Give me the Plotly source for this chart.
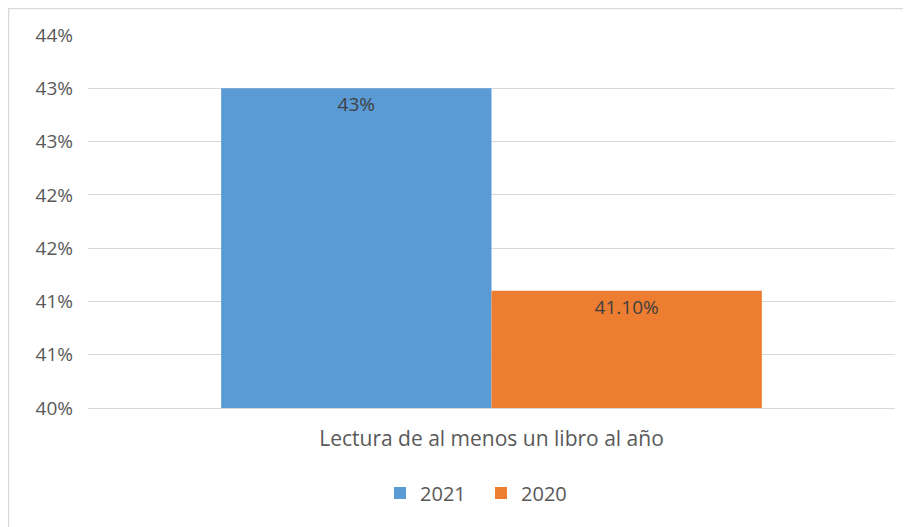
import plotly.graph_objects as go

category = ["Lectura de al menos un libro al año"]
years = ["2021", "2020"]
values = [43.0, 41.1]
value_labels = ["43%", "41.10%"]
colors = ["#5B9BD5", "#ED7D31"]

tick_vals = [40.0, 40.5, 41.0, 41.5, 42.0, 42.5, 43.0, 43.5]
tick_text = ["40%", "41%", "41%", "42%", "42%", "43%", "43%", "44%"]

FONT = "Open Sans, sans-serif"

fig = go.Figure()
for year, val, lab, col in zip(years, values, value_labels, colors):
    fig.add_trace(go.Bar(
        x=category, y=[val], name=year, marker_color=col,
        marker_line_width=0,
        text=[lab], textposition="inside", insidetextanchor="end",
        textfont=dict(family=FONT, size=19, color="#404040"),
        cliponaxis=False,
    ))

# page body adds an 8px offset, so margins are shifted to compensate
fig.update_layout(
    width=911, height=527,
    margin=dict(l=80, r=24, t=27, b=127),
    paper_bgcolor="white", plot_bgcolor="white",
    font=dict(family=FONT, size=19, color="#595959"),
    barmode="group", bargap=0.33, bargroupgap=0,
    uniformtext=dict(mode="show", minsize=10),
    legend=dict(orientation="h", x=0.487, xanchor="center", y=-0.228, yanchor="middle",
                font=dict(size=20, color="#595959"), itemwidth=30,
                entrywidth=56, traceorder="normal"),
    showlegend=True,
)
fig.update_yaxes(
    range=[40, 43.5], tickvals=tick_vals, ticktext=tick_text,
    showgrid=True, gridcolor="#d9d9d9", gridwidth=1.3, zeroline=False,
    showline=False, ticks="", ticklabelstandoff=14,
)
fig.update_xaxes(
    showline=True, linecolor="#d9d9d9", linewidth=1.3, ticks="",
    ticklabelstandoff=12, tickfont=dict(size=21),
)

# chart border (top and left sides)
fig.add_shape(type="line", xref="paper", yref="paper",
              x0=-80 / 807, x1=1.1, y0=399.5 / 373, y1=399.5 / 373,
              line=dict(color="#d9d9d9", width=1.5))
fig.add_shape(type="line", xref="paper", yref="paper",
              x0=-79.5 / 807, x1=-79.5 / 807, y0=400 / 373, y1=-0.4,
              line=dict(color="#d9d9d9", width=1.5))

fig.write_html("out.html")
